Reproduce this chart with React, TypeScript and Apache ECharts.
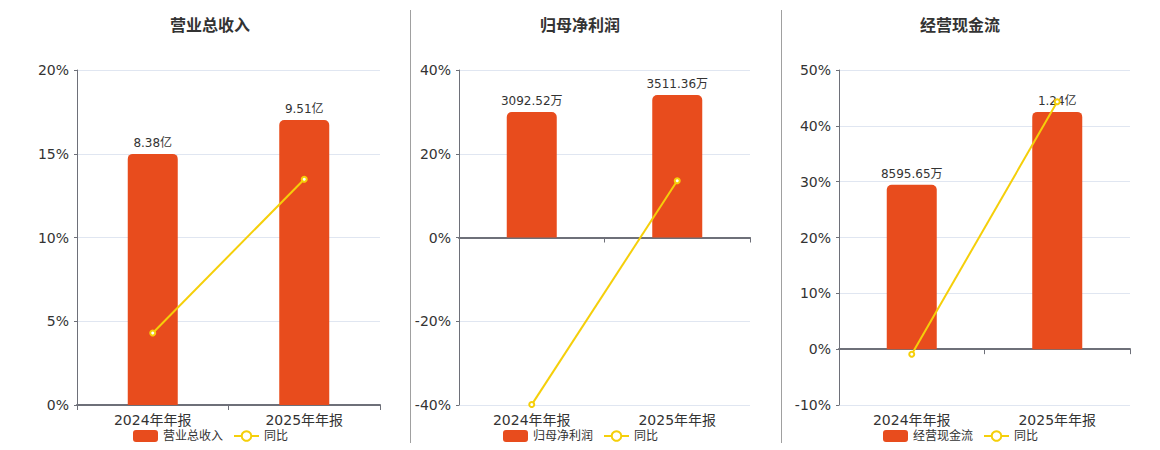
import React, { useEffect, useRef } from "react";
import * as echarts from "echarts";

const categories = ["2024年年报", "2025年年报"];

const titles = ["营业总收入", "归母净利润", "经营现金流"];

// bar values in 万元
const revenueValues = [83800, 95100];
const profitValues = [3092.52, 3511.36];
const cashflowValues = [8595.65, 12400];

// year-on-year growth, %
const revenueYoY = [4.3, 13.48];
const profitYoY = [-39.9, 13.54];
const cashflowYoY = [-0.9, 44.3];

// percent axis ranges [min, max, interval]
const pctAxes = [
  [0, 20, 5],
  [-40, 40, 20],
  [-10, 50, 10],
];

// hidden bar axis ranges
const barAxes = [
  [0, 111800],
  [-4128, 4128],
  [-2918, 14590],
];

const BAR_COLOR = "#E84C1D";
const LINE_COLOR = "#F5CF0A";
const FONT = "'DejaVu Sans', 'Noto Sans CJK SC', sans-serif";

function fmtWan(v: number): string {
  if (Math.abs(v) >= 10000) return (v / 10000).toFixed(2) + "亿";
  return v.toFixed(2) + "万";
}

export default function App() {
  const ref = useRef<HTMLDivElement>(null);

  useEffect(() => {
    if (!ref.current) return;
    const chart = echarts.init(ref.current, undefined, { renderer: "svg" });

    const barData = [revenueValues, profitValues, cashflowValues];
    const yoyData = [revenueYoY, profitYoY, cashflowYoY];

    const grids = [
      { left: 69, top: 62, width: 303, height: 335 },
      { left: 451, top: 62, width: 291, height: 335 },
      { left: 831, top: 62, width: 291, height: 335 },
    ];
    const titleCenters = [197, 567, 947];
    const legendLefts = [120, 490, 870];

    const xAxis: any[] = [];
    const yAxis: any[] = [];
    const series: any[] = [];

    grids.forEach((_, i) => {
      xAxis.push({
        type: "category",
        gridIndex: i,
        data: categories,
        axisLine: { lineStyle: { color: "#6E7079", width: 2 } },
        axisTick: { show: true, lineStyle: { color: "#6E7079" } },
        axisLabel: { fontSize: 14, color: "#333", fontFamily: FONT, margin: 8 },
      });
      const [mn, mx, iv] = pctAxes[i];
      yAxis.push({
        type: "value",
        gridIndex: i,
        min: mn,
        max: mx,
        interval: iv,
        axisLine: { show: true, lineStyle: { color: "#6E7079" } },
        axisTick: { show: true, length: 3, lineStyle: { color: "#6E7079" } },
        axisLabel: {
          fontSize: 14,
          color: "#333",
          fontFamily: FONT,
          formatter: (v: number) => v + "%",
        },
        splitLine: { lineStyle: { color: "#E0E6F1" } },
      });
      yAxis.push({
        type: "value",
        gridIndex: i,
        min: barAxes[i][0],
        max: barAxes[i][1],
        show: false,
        splitLine: { show: false },
      });
      series.push({
        type: "bar",
        name: titles[i],
        xAxisIndex: i,
        yAxisIndex: i * 2 + 1,
        data: barData[i],
        barWidth: 50,
        itemStyle: { color: BAR_COLOR, borderRadius: [5, 5, 0, 0] },
        label: {
          show: true,
          position: "top",
          fontSize: 12,
          color: "#333",
          fontFamily: FONT,
          formatter: (p: any) => fmtWan(p.value),
        },
        z: 2,
      });
      series.push({
        type: "line",
        name: "同比",
        xAxisIndex: i,
        yAxisIndex: i * 2,
        data: yoyData[i],
        symbol: "emptyCircle",
        symbolSize: 5,
        lineStyle: { color: LINE_COLOR, width: 2 },
        itemStyle: { color: LINE_COLOR, borderColor: LINE_COLOR, borderWidth: 2 },
        z: 5,
      });
    });

    chart.setOption({
      animation: false,
      textStyle: { fontFamily: FONT },
      title: titles.map((t, i) => ({
        text: t,
        left: titleCenters[i],
        top: 4,
        textAlign: "center",
        textStyle: { fontSize: 16, fontWeight: "bold", color: "#333", fontFamily: FONT },
      })),
      grid: grids,
      xAxis,
      yAxis,
      series,
      legend: legendLefts.map((l, i) => ({
        data: [
          { name: titles[i], icon: "roundRect" },
          { name: "同比" },
        ],
        left: l,
        top: 422,
        padding: [0, 5, 0, 5],
        itemWidth: 25,
        itemHeight: 12,
        itemGap: 10,
        textStyle: { fontSize: 12, color: "#333", fontFamily: FONT },
      })),
      graphic: [
        {
          type: "line",
          shape: { x1: 402.5, y1: 2, x2: 402.5, y2: 435 },
          style: { stroke: "#A0A0A0", lineWidth: 1 },
        },
        {
          type: "line",
          shape: { x1: 773.5, y1: 2, x2: 773.5, y2: 435 },
          style: { stroke: "#A0A0A0", lineWidth: 1 },
        },
      ],
    });

    return () => chart.dispose();
  }, []);

  return <div ref={ref} style={{ width: 1144, height: 442 }} />;
}
